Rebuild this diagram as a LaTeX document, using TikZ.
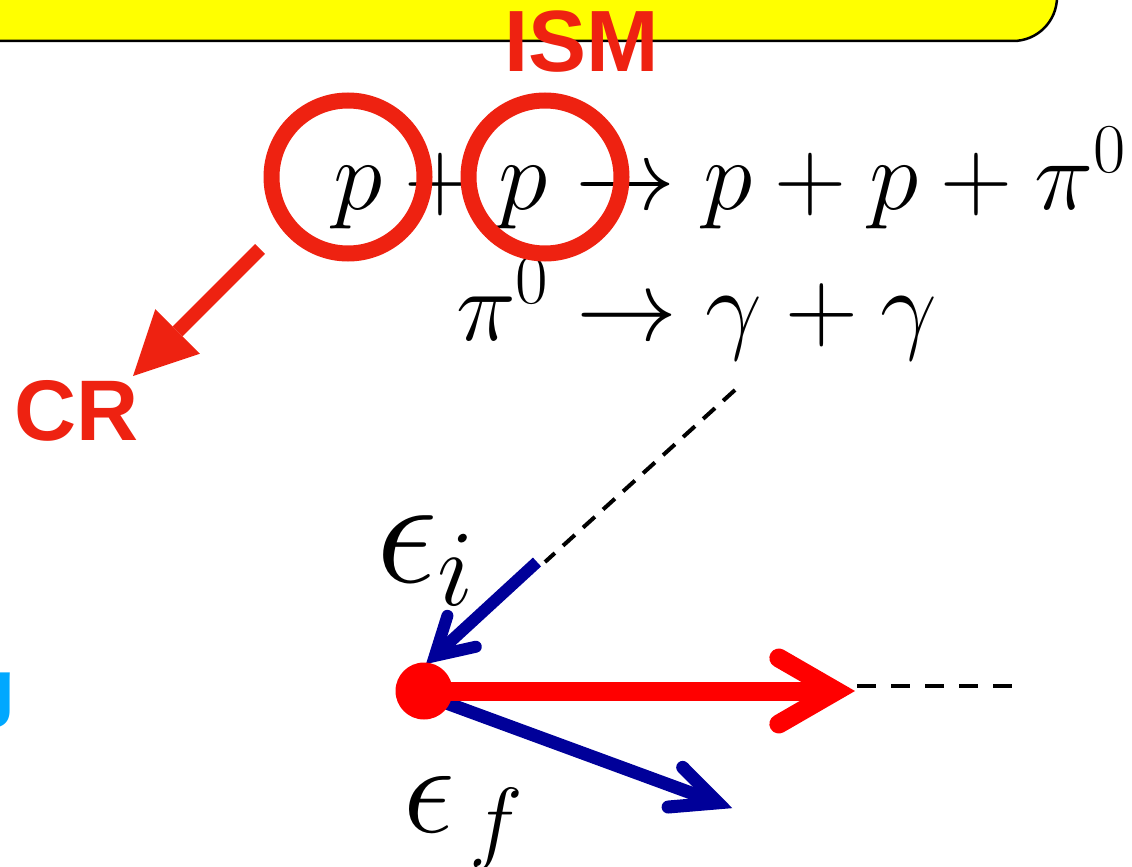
\RequirePackage{fix-cm}
\documentclass[tikz,border=0pt]{standalone}
\usepackage{fontspec}
\newfontfamily\helv{Liberation Sans}
\usetikzlibrary{arrows.meta,calc}
\definecolor{ismred}{RGB}{238,34,17}
\definecolor{vecred}{RGB}{255,0,0}
\definecolor{navy}{RGB}{0,0,153}
\definecolor{skyb}{RGB}{0,168,255}
\definecolor{boxyellow}{RGB}{255,255,0}
% #1 tail coordinate, #2 tip coordinate, #3 miter extension, #4 arm length, #5 half angle, #6 style
\newcommand\chevarrow[6]{%
  \coordinate (#2-v) at ($(#2)!#3!(#1)$);
  \draw[#6] (#1) -- (#2-v);
  \draw[#6, line cap=round, line join=miter, miter limit=10]
    ($(#2-v)!#4!#5:(#1)$) -- (#2-v) -- ($(#2-v)!#4!-#5:(#1)$);
}
\begin{document}
\begin{tikzpicture}[x=1pt,y=-1pt,
  mathtxt/.style={inner sep=0pt, text=black},
  sanslab/.style={inner sep=0pt, font=\helv\bfseries\fontsize{#1}{#1}\selectfont},
  ring/.style={circle, draw=ismred, line width=16pt, minimum size=153pt, inner sep=0pt},
  dashline/.style={draw=black, line width=4pt, dash pattern=on 16pt off 11pt},
  bluevec/.style={draw=navy, line width=#1}
]
\useasboundingbox (0,0) rectangle (1132,867);

% yellow banner
\draw[fill=boxyellow, line width=2.5pt, rounded corners=44pt] (-60,-120) rectangle (1057,41);

% label ISM
\node[sanslab=87, text=ismred, anchor=base] (ism) at (582,71) {ISM};

% reaction lines
\node[mathtxt, anchor=base west, font=\fontsize{100}{115}\selectfont] (eq1) at (333,209)
  {$p+p\rightarrow p+p+\pi^0$};
\node[mathtxt, anchor=base west, font=\fontsize{101}{116}\selectfont] (eq2) at (456,340)
  {$\pi^0\rightarrow \gamma+\gamma$};

% circles
\node[ring] (c1) at (348,177) {};
\node[ring] (c2) at (545,177) {};

% CR arrow
\coordinate (crtail) at (260,249);
\coordinate (crtip) at (133,376);
\draw[ismred, line width=14pt, -{Triangle[length=63pt,width=63pt,line width=0pt]}] (crtail) -- (crtip);
\node[sanslab=86, text=ismred, anchor=base west] (cr) at (14,440) {CR};

% cut-off blue label
\node[sanslab=75, text=skyb, anchor=base east] (glab) at (16,712) {g};

% photon dashed line
\coordinate (gam) at (735,390);
\coordinate (btail) at (545,562);
\coordinate (b1tail) at (537,562);
\draw[dashline] (gam) -- (btail);

% scattering vertex
\coordinate (dotc) at (424,691);
\coordinate (rtip) at (855,691);
\coordinate (b1tip) at (426,664);
\coordinate (b2tail) at (430,697);
\coordinate (b2tip) at (732,808);
\coordinate (hd1) at (857,686);
\coordinate (hd2) at (1016,686);
\draw[dashline, dash pattern=on 19pt off 15pt] (hd1) -- (hd2);

\chevarrow{b1tail}{b1tip}{12pt}{42pt}{30}{bluevec=12pt}
\chevarrow{b2tail}{b2tip}{15pt}{50pt}{25}{bluevec=13pt}
\chevarrow{dotc}{rtip}{19pt}{66pt}{30}{draw=vecred, line width=19pt}
\node[circle, fill=vecred, minimum size=57pt, inner sep=0pt] (dot) at (dotc) {};

% energy labels
\node[mathtxt, anchor=base west, font=\fontsize{155}{175}\selectfont] (ei) at (376,582) {$\epsilon_i$};
\node[mathtxt, anchor=base west, font=\fontsize{130}{150}\selectfont] (ef) at (403,832) {$\epsilon_{\,f}$};
\end{tikzpicture}
\end{document}
